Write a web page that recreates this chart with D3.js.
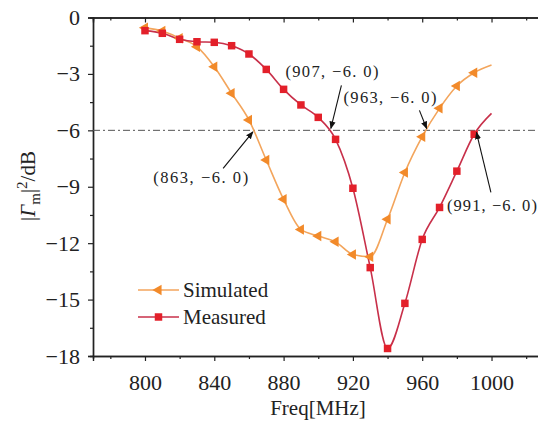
<!DOCTYPE html>
<html><head>
<meta charset="utf-8">
<script src="https://d3js.org/d3.v7.min.js"></script>
<style>
  body { margin: 0; background: #fff; }
  svg text { font-family: "Liberation Serif", "DejaVu Serif", serif; fill: #222; }
</style>
</head>
<body>
<div id="chart"></div>
<script>

// data
var freq = [800, 810, 820, 830, 840, 850, 860, 870, 880, 890, 900,
            910, 920, 930, 940, 950, 960, 970, 980, 990, 1000];
var simulated = [-0.55, -0.72, -1.10, -1.55, -2.62, -4.03, -5.45, -7.58, -9.67, -11.27, -11.62,
                 -11.93, -12.60, -12.72, -10.73, -8.24, -6.34, -4.83, -3.64, -2.94, -2.53];
var measured = [-0.70, -0.84, -1.16, -1.29, -1.32, -1.50, -1.94, -2.76, -3.82, -4.65, -5.31,
                -6.48, -9.08, -13.30, -17.60, -15.20, -11.80, -10.10, -8.17, -6.21, -5.10];
var xTicks = [800, 840, 880, 920, 960, 1000];
var yTicks = [0, -3, -6, -9, -12, -15, -18];
var level = -6;
var crossings = [863, 907, 963, 991];
var seriesNames = ["Simulated", "Measured"];

var width = 538, height = 425;

var svg = d3.select("#chart").append("svg")
    .attr("width", width)
    .attr("height", height);

var x = d3.scaleLinear().domain([770, 1030]).range([93, 543.5]);
var y = d3.scaleLinear().domain([-18, 0]).range([356, 17.5]);

var orangeLine = "#f3a55c", orangeMark = "#f28a2a";
var redLine = "#c8304a", redMark = "#e3202a";

// minor ticks
var xMinor = d3.range(780, 1030, 40);
var yMinor = d3.range(-16.5, 0, 3);

function styleAxis(g) {
  g.select(".domain").attr("stroke", "#222").attr("stroke-width", 1.4);
  g.selectAll(".tick line").attr("stroke", "#222").attr("stroke-width", 1.2);
  g.selectAll("text").style("font-size", "22px").attr("fill", "#222")
    .style("font-family", "'Liberation Serif', serif");
}

// bottom axis
svg.append("g")
  .attr("transform", "translate(0," + y(-18) + ")")
  .call(d3.axisBottom(x).tickValues(xTicks).tickSize(5).tickPadding(13).tickFormat(d3.format("d")))
  .call(styleAxis);
svg.append("g")
  .attr("transform", "translate(0," + y(-18) + ")")
  .call(d3.axisBottom(x).tickValues(xMinor).tickSize(3).tickFormat(""))
  .call(styleAxis);

// top axis, ticks inward
svg.append("g")
  .attr("transform", "translate(0," + y(0) + ")")
  .call(d3.axisTop(x).tickValues(xTicks).tickSize(-5).tickFormat(""))
  .call(styleAxis);
svg.append("g")
  .attr("transform", "translate(0," + y(0) + ")")
  .call(d3.axisTop(x).tickValues(xMinor).tickSize(-3).tickFormat(""))
  .call(styleAxis);

// left axis
svg.append("g")
  .attr("transform", "translate(" + x(770) + ",0)")
  .call(d3.axisLeft(y).tickValues(yTicks).tickSize(5).tickPadding(8).tickFormat(d3.format("d")))
  .call(styleAxis);
svg.append("g")
  .attr("transform", "translate(" + x(770) + ",0)")
  .call(d3.axisLeft(y).tickValues(yMinor).tickSize(3).tickFormat(""))
  .call(styleAxis);

// right axis (mostly off the picture)
svg.append("g")
  .attr("transform", "translate(" + x(1030) + ",0)")
  .call(d3.axisRight(y).tickValues(yTicks).tickSize(-5).tickFormat(""))
  .call(styleAxis);

// -6 dB reference line
svg.append("line")
  .attr("x1", x(770)).attr("x2", x(1030))
  .attr("y1", y(level)).attr("y2", y(level))
  .attr("stroke", "#555").attr("stroke-width", 1)
  .attr("stroke-dasharray", "7,3,2,3");

var sim = freq.map(function(f, i) { return {f: f, v: simulated[i]}; });
var mea = freq.map(function(f, i) { return {f: f, v: measured[i]}; });

var line = d3.line()
  .x(function(d) { return x(d.f); })
  .y(function(d) { return y(d.v); })
  .curve(d3.curveMonotoneX);

svg.append("path").datum(sim)
  .attr("fill", "none").attr("stroke", orangeLine).attr("stroke-width", 1.6)
  .attr("d", line);

svg.append("path").datum(mea)
  .attr("fill", "none").attr("stroke", redLine).attr("stroke-width", 1.6)
  .attr("d", line);

var tri = d3.symbol().type(d3.symbolTriangle).size(48);
var sq = d3.symbol().type(d3.symbolSquare).size(56);

// last point (1000 MHz) has no marker in the original
svg.selectAll(".sim-pt").data(sim.slice(0, -1)).enter().append("path")
  .attr("class", "sim-pt")
  .attr("d", tri)
  .attr("fill", orangeMark)
  .attr("transform", function(d) { return "translate(" + x(d.f) + "," + y(d.v) + ") rotate(-90)"; });

svg.selectAll(".mea-pt").data(mea.slice(0, -1)).enter().append("path")
  .attr("class", "mea-pt")
  .attr("d", sq)
  .attr("fill", redMark)
  .attr("transform", function(d) { return "translate(" + x(d.f) + "," + y(d.v) + ")"; });

// annotations: label offset from the crossing point, arrow start offset
var annLayout = {
  863: {tx: -101, ty: 53, ax: -31, ay: 38, w: 95},
  907: {tx: -45, ty: -53, ax: 11, ay: -45, w: 93},
  963: {tx: -84, ty: -27, ax: -8, ay: -20, w: 93},
  991: {tx: -29, ty: 81, ax: 15, ay: 62, w: 90}
};

svg.append("defs").append("marker")
  .attr("id", "arrow")
  .attr("viewBox", "0 0 10 10")
  .attr("refX", 9).attr("refY", 5)
  .attr("markerWidth", 7).attr("markerHeight", 7)
  .attr("orient", "auto")
  .append("path").attr("d", "M0,1 L10,5 L0,9 Z").attr("fill", "#111");

crossings.forEach(function(f) {
  var L = annLayout[f];
  var px = x(f), py = y(level);
  var sx = px + L.ax, sy = py + L.ay;
  var dx = px - sx, dy = py - sy, len = Math.sqrt(dx * dx + dy * dy);
  svg.append("line")
    .attr("x1", sx).attr("y1", sy)
    .attr("x2", px - dx / len * 2).attr("y2", py - dy / len * 2)
    .attr("stroke", "#111").attr("stroke-width", 1.1)
    .attr("marker-end", "url(#arrow)");
  svg.append("text")
    .attr("x", px + L.tx).attr("y", py + L.ty)
    .attr("textLength", L.w).attr("lengthAdjust", "spacing")
    .style("font-size", "16.5px")
    .text("(" + f + ", \u2212" + Math.abs(level) + ". 0)");
});

// legend
var legend = [
  {name: seriesNames[0], line: orangeLine, mark: orangeMark, sym: tri, rot: -90},
  {name: seriesNames[1], line: redLine, mark: redMark, sym: sq, rot: 0}
];
legend.forEach(function(d, i) {
  var ly = 290 + i * 27;
  svg.append("line")
    .attr("x1", 138).attr("x2", 179).attr("y1", ly).attr("y2", ly)
    .attr("stroke", d.line).attr("stroke-width", 1.6);
  svg.append("path")
    .attr("d", d.sym)
    .attr("fill", d.mark)
    .attr("transform", "translate(158.5," + ly + ") rotate(" + d.rot + ")");
  svg.append("text")
    .attr("x", 183).attr("y", ly + 7)
    .style("font-size", "21px")
    .text(d.name);
});

// axis titles
svg.append("text")
  .attr("x", 318).attr("y", 415)
  .attr("text-anchor", "middle")
  .style("font-size", "21px")
  .text("Freq[MHz]");

var yt = svg.append("text")
  .attr("transform", "translate(35,186) rotate(-90)")
  .attr("text-anchor", "middle")
  .style("font-size", "21px");
yt.append("tspan").text("|");
yt.append("tspan").style("font-style", "italic").text("\u0393");
yt.append("tspan").attr("dy", 5).style("font-size", "15px").text("m");
yt.append("tspan").attr("dy", -5).text("|");
yt.append("tspan").attr("dy", -8).style("font-size", "15px").text("2");
yt.append("tspan").attr("dy", 8).text("/dB");

</script>
</body></html>
